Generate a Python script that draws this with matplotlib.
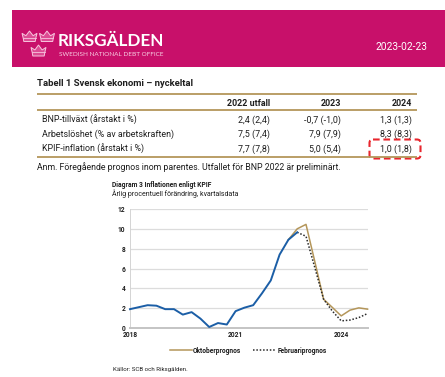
import matplotlib
matplotlib.use("Agg")
import matplotlib.pyplot as plt
from matplotlib.patches import Rectangle, Polygon, FancyBboxPatch
import numpy as np

plt.rcParams['font.family'] = ['Roboto', 'DejaVu Sans']

# ---------------- data ----------------
header_date = "2023-02-23"
table_title = "Tabell 1 Svensk ekonomi – nyckeltal"
col_headers = ["2022 utfall", "2023", "2024"]
row_labels = ["BNP-tillväxt (årstakt i %)",
              "Arbetslöshet (% av arbetskraften)",
              "KPIF-inflation (årstakt i %)"]
row_values = [["2,4 (2,4)", "-0,7 (-1,0)", "1,3 (1,3)"],
              ["7,5 (7,4)", "7,9 (7,9)", "8,3 (8,3)"],
              ["7,7 (7,8)", "5,0 (5,4)", "1,0 (1,8)"]]
table_note = "Anm. Föregående prognos inom parentes. Utfallet för BNP 2022 är preliminärt."

chart_title = "Diagram 3 Inflationen enligt KPIF"
chart_subtitle = "Årlig procentuell förändring, kvartalsdata"
source_text = "Källor: SCB och Riksgälden."

# quarterly index: 0 = 2018Q1 ... 27 = 2024Q4
x_tick_pos = [0, 12, 24]
x_tick_labels = ["2018", "2021", "2024"]
y_ticks = [0, 2, 4, 6, 8, 10, 12]

outcome_start = 0
outcome = [1.9, 2.1, 2.3, 2.25, 1.9, 1.9, 1.35, 1.6, 0.95, 0.1, 0.5, 0.35,
           1.7, 2.05, 2.3, 3.5, 4.8, 7.4, 8.9, 9.65]
oktober_start = 18
oktober = [8.9, 10.0, 10.45, 6.7, 2.9, 2.07, 1.22, 1.8, 2.03, 1.9]
februari_start = 19
februari = [9.65, 9.25, 6.1, 2.9, 1.7, 0.72, 0.8, 1.05, 1.46]
legend_labels = ["Oktoberprognos", "Februariprognos"]

# ---------------- styles ----------------
W, H = 445, 377
PINK = '#C8106A'
GOLD = '#B4965A'
BLUE = '#1B5EA6'
TXT = '#1e1e1e'

fig = plt.figure(figsize=(W / 100, H / 100), dpi=100)
fig.patch.set_facecolor('white')

# overlay axes in pixel coordinates
ov = fig.add_axes([0, 0, 1, 1])
ov.set_xlim(0, W)
ov.set_ylim(H, 0)
ov.axis('off')

# banner
ov.add_patch(Rectangle((12, 10), W - 12, 57, facecolor=PINK, edgecolor='none'))

def crown(x0, y0, w, h):
    pts = [(0.12, 0), (0.88, 0), (0.92, 0.32), (1.0, 0.78), (0.74, 0.55),
           (0.5, 1.0), (0.26, 0.55), (0.0, 0.78), (0.08, 0.32)]
    verts = [(x0 + px * w, y0 + h - py * h) for px, py in pts]
    ov.add_patch(Polygon(verts, closed=True, facecolor='#dd4c93',
                         edgecolor='#f7c6de', lw=0.7))
    ov.plot([x0 + 0.08 * w, x0 + 0.92 * w], [y0 + h - 0.32 * h] * 2,
            color='#f7c6de', lw=0.6)

crown(22, 31, 15, 10.5)
crown(39.5, 31, 15, 10.5)
crown(31, 45, 15, 11)

ov.text(58, 45.5, "RIKSGÄLDEN", family=['Lato', 'DejaVu Sans'], weight='bold',
        fontsize=12.3, color='white', va='baseline', ha='left')
ov.text(59, 55.5, "SWEDISH NATIONAL DEBT OFFICE", family=['Lato', 'DejaVu Sans'],
        fontsize=4.6, color='#f8cfe3', va='baseline', ha='left')
ov.text(428, 50, header_date, fontsize=7.4, color='white', va='baseline', ha='right')

# table
ov.text(37, 86.5, table_title, fontsize=6.8, weight='bold', color=TXT,
        va='baseline', ha='left')
for yy in (93.8, 110, 157):
    ov.plot([37, 417], [yy, yy], color=GOLD, lw=1.3, solid_capstyle='butt')

col_right = [270, 341, 412]
for cx, hdr in zip(col_right, col_headers):
    ov.text(cx, 105.5, hdr, fontsize=6.4, weight='bold', color=TXT,
            va='baseline', ha='right')
row_base = [122.5, 136.5, 151.5]
for ry, lab, vals in zip(row_base, row_labels, row_values):
    ov.text(42, ry, lab, fontsize=6.4, color=TXT, va='baseline', ha='left')
    for cx, v in zip(col_right, vals):
        ov.text(cx, ry, v, fontsize=6.4, color=TXT, va='baseline', ha='right')

ov.add_patch(FancyBboxPatch((369.5, 139.5), 51, 19,
                            boxstyle="round,pad=0,rounding_size=3.5",
                            facecolor='none', edgecolor='#E8262D', lw=1.5,
                            linestyle=(0, (3.2, 1.8))))

ov.text(37, 169.5, table_note, fontsize=6.3, color=TXT, va='baseline', ha='left')

# chart texts
ov.text(112, 186.7, chart_title, fontsize=4.9, weight='bold', color=TXT,
        va='baseline', ha='left')
ov.text(112, 196.5, chart_subtitle, fontsize=5.0, color=TXT,
        va='baseline', ha='left')
ov.text(113, 371, source_text, fontsize=4.4, color=TXT, va='baseline', ha='left')

# chart axes
left, right, top, bottom = 130, 367.6, 209, 328
ax = fig.add_axes([left / W, 1 - bottom / H, (right - left) / W, (bottom - top) / H])
ax.set_xlim(0, 27)
ax.set_ylim(0, 12)
ax.set_facecolor('none')
for yv in y_ticks[1:]:
    ax.axhline(yv, color='#dcdcdc', lw=0.9, zorder=0)
for s in ('top', 'right'):
    ax.spines[s].set_visible(False)
ax.spines['left'].set_color('#d4d4d4')
ax.spines['left'].set_linewidth(0.7)
ax.spines['bottom'].set_color('#c4c4c4')
ax.spines['bottom'].set_linewidth(1.4)
ax.set_yticks(y_ticks)
ax.set_yticklabels([str(v) for v in y_ticks])
ax.set_xticks(x_tick_pos)
ax.set_xticklabels(x_tick_labels)
ax.tick_params(axis='both', length=0, labelsize=4.8, colors=TXT)
ax.tick_params(axis='y', pad=3.5)
ax.tick_params(axis='x', pad=2.5)
for lab in ax.get_xticklabels() + ax.get_yticklabels():
    lab.set_fontweight('bold')

x_okt = np.arange(oktober_start, oktober_start + len(oktober))
x_feb = np.arange(februari_start, februari_start + len(februari))
x_out = np.arange(outcome_start, outcome_start + len(outcome))
l_okt, = ax.plot(x_okt, oktober, color=GOLD, lw=1.1, clip_on=False, zorder=2)
l_feb, = ax.plot(x_feb, februari, color='#2a2a2a', lw=1.1, linestyle=(0, (1, 1.2)),
                 clip_on=False, zorder=3)
ax.plot(x_out, outcome, color=BLUE, lw=1.4, clip_on=False, zorder=4,
        solid_joinstyle='round')

leg = fig.legend([l_okt, l_feb], legend_labels, ncol=2, frameon=False,
                 loc='center', bbox_to_anchor=(248 / W, 1 - 350.7 / H),
                 prop={'size': 4.8, 'weight': 'bold'}, handlelength=3.4,
                 handletextpad=0.15, columnspacing=1.8)
for t in leg.get_texts():
    t.set_color(TXT)

fig.savefig("out.png", dpi=100, facecolor='white')
